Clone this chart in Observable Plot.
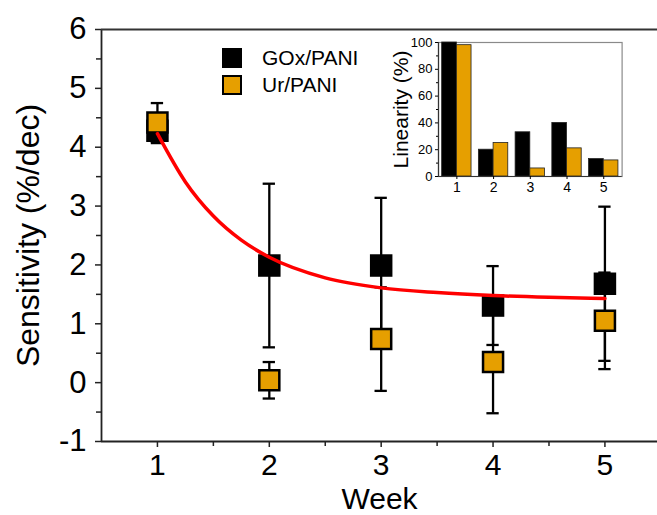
<!DOCTYPE html>
<html><head><meta charset="utf-8">
<script src="https://cdn.jsdelivr.net/npm/d3@7"></script>
<script src="https://cdn.jsdelivr.net/npm/@observablehq/plot@0.6"></script>
<style>
body{margin:0;background:#fff;}
#wrap{position:relative;width:657px;height:515px;overflow:hidden;font-family:"Liberation Sans",Arial,sans-serif;}
#wrap svg{position:absolute;background:none;overflow:visible;}
.leg{position:absolute;left:222px;width:20px;height:20px;box-sizing:border-box;}
.legt{position:absolute;left:262px;font-size:21px;line-height:20px;color:#000;}
</style></head><body><div id="wrap"></div>
<script>
// ---- data ----
const weeks = [1, 2, 3, 4, 5];
const goxSens = [4.28, 1.99, 1.99, 1.31, 1.68];
const goxErr  = [0.21, 1.39, 1.15, 0.67, 1.31];
const urSens  = [4.42, 0.04, 0.74, 0.35, 1.05];
const urErr   = [0.33, 0.31, 0.88, 0.87, 0.82];
const fitWeek = [1, 1.25, 1.5, 1.75, 2, 2.5, 3, 3.5, 4, 4.5, 5];
const fitSens = [4.23, 3.41, 2.83, 2.42, 2.13, 1.78, 1.61, 1.53, 1.48, 1.45, 1.43];
const goxLinearity = [100, 20, 33, 40, 13];
const urLinearity  = [98, 25, 6, 21, 12];
const seriesNames = ["GOx/PANI", "Ur/PANI"];
const yTicks = [-1, 0, 1, 2, 3, 4, 5, 6];
const yMinor = [-0.5, 0.5, 1.5, 2.5, 3.5, 4.5, 5.5];
const xTicks = [1, 2, 3, 4, 5];
const xMinor = [1.5, 2.5, 3.5, 4.5];
const insetYTicks = [0, 20, 40, 60, 80, 100];
const insetYMinor = [10, 30, 50, 70, 90];

const ORANGE = "#E69F00";
const FONT = "'Liberation Sans', Arial, sans-serif";

const gox = weeks.map((w, i) => ({week: w, s: goxSens[i], e: goxErr[i]}));
const ur  = weeks.map((w, i) => ({week: w, s: urSens[i], e: urErr[i]}));
const fit = fitWeek.map((w, i) => ({week: w, s: fitSens[i]}));
const cap = 0.055;

function errMarks(d) {
  return [
    Plot.ruleX(d, {x: "week", y1: r => r.s - r.e, y2: r => r.s + r.e, stroke: "#000", strokeWidth: 2.3}),
    Plot.ruleY(d, {y: r => r.s + r.e, x1: r => r.week - cap, x2: r => r.week + cap, stroke: "#000", strokeWidth: 2.3}),
    Plot.ruleY(d, {y: r => r.s - r.e, x1: r => r.week - cap, x2: r => r.week + cap, stroke: "#000", strokeWidth: 2.3})
  ];
}

const main = Plot.plot({
  width: 657, height: 515,
  marginLeft: 101, marginRight: 0, marginTop: 29, marginBottom: 74,
  style: {fontFamily: FONT, background: "none", color: "#000"},
  x: {domain: [0.5, 5.47]},
  y: {domain: [-1, 6]},
  marks: [
    Plot.axisY({ticks: yTicks, tickSize: 6, tickPadding: 9, fontSize: 31, label: null, tickFormat: d => String(d), stroke: "#222", strokeWidth: 1.5}),
    Plot.axisY({ticks: yMinor, tickSize: 5, tickFormat: () => "", label: null, stroke: "#222", strokeWidth: 1.5}),
    Plot.axisX({ticks: xTicks, tickSize: 6, tickPadding: 6, fontSize: 30, label: null, tickFormat: d => String(d), stroke: "#222", strokeWidth: 1.5}),
    Plot.axisX({ticks: xMinor, tickSize: 5, tickFormat: () => "", label: null, stroke: "#222", strokeWidth: 1.5}),
    Plot.ruleX([0.5], {stroke: "#222", strokeWidth: 1.8}),
    Plot.ruleY([-1], {stroke: "#222", strokeWidth: 1.8}),
    Plot.ruleY([6], {stroke: "#333", strokeWidth: 2}),
    ...errMarks(gox),
    Plot.dot(gox, {x: "week", y: "s", symbol: "square", r: 12.7, fill: "#000"}),
    ...errMarks(ur),
    Plot.dot(ur, {x: "week", y: "s", symbol: "square", r: 11.3, fill: ORANGE, stroke: "#000", strokeWidth: 2.5}),
    Plot.line(fit, {x: "week", y: "s", stroke: "#ff0000", strokeWidth: 3.5, curve: "monotone-x"}),
    Plot.text(["Week"], {frameAnchor: "bottom", textAnchor: "middle", dy: 67.5, lineAnchor: "bottom", fontSize: 30, fill: "#000"}),
    Plot.text(["Sensitivity (%/dec)"], {frameAnchor: "left", textAnchor: "middle", rotate: -90, dx: -63, lineAnchor: "bottom", fontSize: 32, fill: "#000"})
  ]
});
main.style.left = "0px"; main.style.top = "0px";

const bars = [];
weeks.forEach((w, i) => {
  bars.push({week: w, v: goxLinearity[i], series: seriesNames[0], off0: -0.4, off1: 0});
  bars.push({week: w, v: urLinearity[i], series: seriesNames[1], off0: 0, off1: 0.4});
});

const inset = Plot.plot({
  width: 297, height: 175,
  marginLeft: 78, marginRight: 35.4, marginTop: 12, marginBottom: 29,
  style: {fontFamily: FONT, background: "none", color: "#000"},
  x: {domain: [0.5, 5.5]},
  y: {domain: [0, 100]},
  color: {domain: seriesNames, range: ["#000", ORANGE]},
  marks: [
    Plot.frame({stroke: "#8a8a8a", strokeWidth: 1.2}),
    Plot.rectY(bars, {x1: d => d.week + d.off0, x2: d => d.week + d.off1, y: "v", fill: "series", stroke: "#222", strokeWidth: 0.8}),
    Plot.ruleX([0.5], {stroke: "#333", strokeWidth: 1.2}),
    Plot.ruleY([0], {stroke: "#333", strokeWidth: 1.2}),
    Plot.axisY({ticks: insetYTicks, tickSize: 3, tickPadding: 3, fontSize: 13, label: null, tickFormat: d => String(d)}),
    Plot.axisY({ticks: insetYMinor, tickSize: 2, tickFormat: () => "", label: null}),
    Plot.axisX({ticks: xTicks, tickSize: 3, tickPadding: 3, fontSize: 14, label: null, tickFormat: d => String(d)}),
    Plot.text(["Linearity (%)"], {frameAnchor: "left", textAnchor: "middle", rotate: -90, dx: -31, lineAnchor: "bottom", fontSize: 21, fill: "#000"})
  ]
});
inset.style.left = "360px"; inset.style.top = "30px";

const wrap = document.getElementById("wrap");
wrap.appendChild(main);
wrap.appendChild(inset);

const legColors = ["#000", ORANGE];
const legTops = [48, 75];
seriesNames.forEach((name, i) => {
  const sq = document.createElement("div");
  sq.className = "leg";
  sq.style.top = legTops[i] + "px";
  sq.style.background = legColors[i];
  if (i === 1) sq.style.border = "2.5px solid #000";
  wrap.appendChild(sq);
  const t = document.createElement("div");
  t.className = "legt";
  t.style.top = legTops[i] + "px";
  t.textContent = name;
  wrap.appendChild(t);
});
</script></body></html>
